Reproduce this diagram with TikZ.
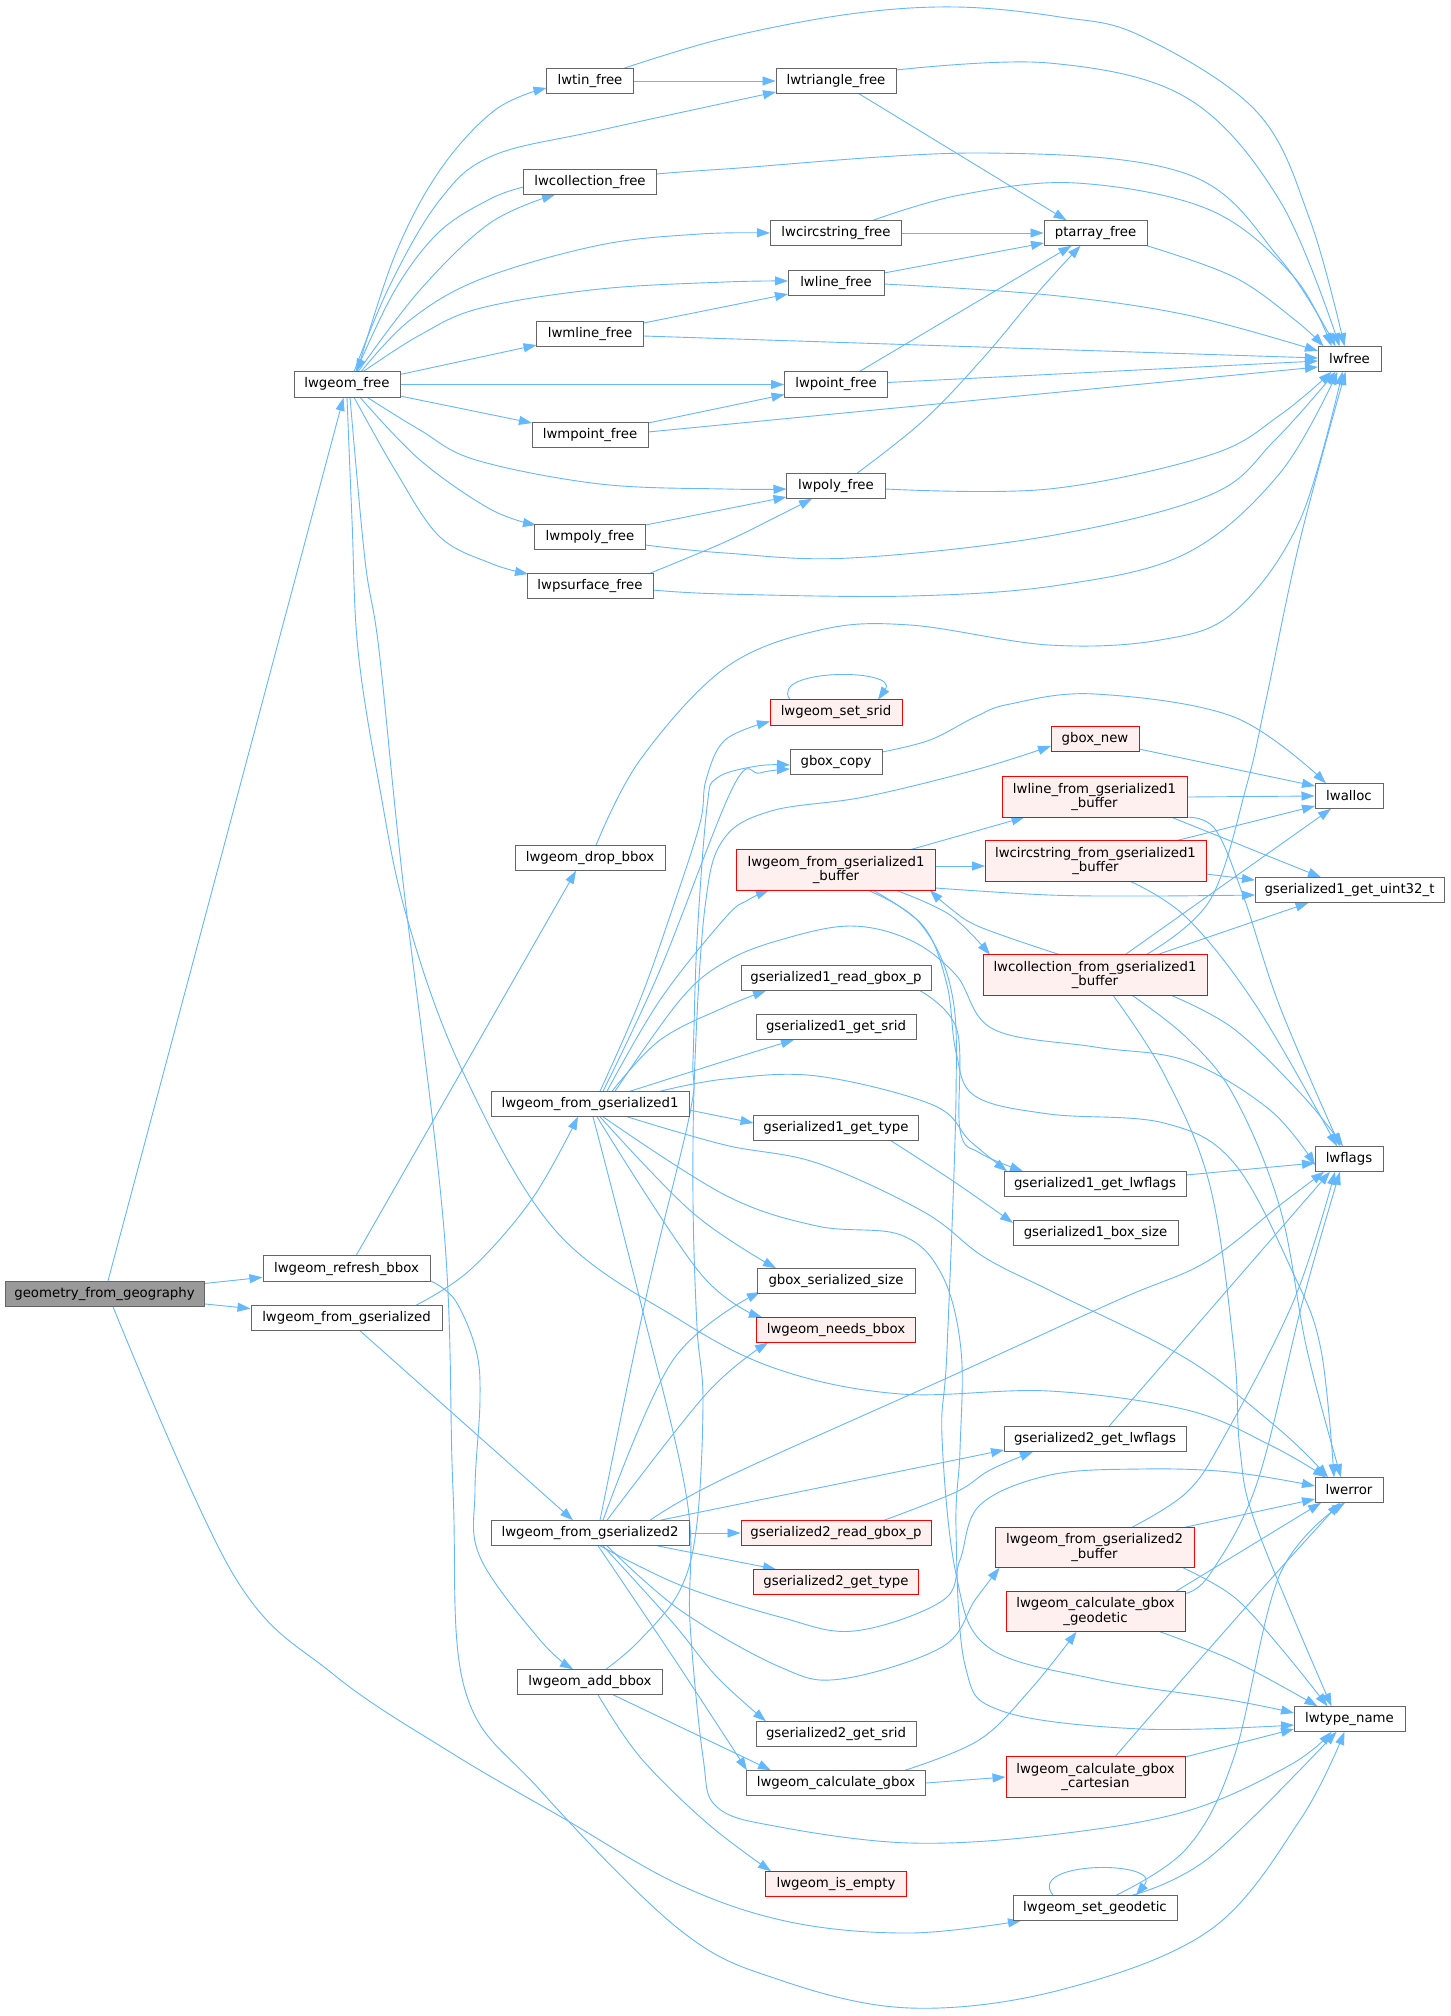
\documentclass[tikz,border=0pt]{standalone}
\usepackage{fontspec}
\setmainfont{DejaVu Sans}
\usetikzlibrary{arrows.meta}
\definecolor{edgec}{HTML}{63B8FF}
\definecolor{bord}{HTML}{666666}
\definecolor{redfill}{HTML}{FFF0F0}
\definecolor{rootfill}{HTML}{999999}
\pgfdeclarelayer{bg}
\pgfsetlayers{bg,main}
\begin{document}
\begin{tikzpicture}[x=1pt,y=-1pt,
 fn/.style={draw=bord, fill=white, line width=1pt, inner xsep=3pt, inner ysep=0pt, minimum height=25.5pt, font=\fontsize{13.3}{14.5}\selectfont, align=center, text=black},
 rn/.style={fn, draw=red, fill=redfill},
 two/.style={minimum height=40.5pt},
 e/.style={draw=edgec, line width=0.9pt, -{Triangle[length=13pt,width=9pt]}},
]
\useasboundingbox (0,0) rectangle (1451,2016);

\node[fn,fill=rootfill,minimum width=199pt] (G) at (104.5,1294) {geometry\_from\_geography};
\node[fn,minimum width=106pt] (LF) at (347,384.5) {lwgeom\_free};
\node[fn,minimum width=167pt] (refresh) at (346.5,1268.5) {lwgeom\_refresh\_bbox};
\node[fn,minimum width=191pt] (fromgs) at (346.5,1318) {lwgeom\_from\_gserialized};
\node[fn,minimum width=87pt] (tin) at (590,81) {lwtin\_free};
\node[fn,minimum width=133pt] (lwcoll) at (590,182) {lwcollection\_free};
\node[fn,minimum width=107pt] (lwmline) at (590,334) {lwmline\_free};
\node[fn,minimum width=116pt] (lwmpoint) at (590,435) {lwmpoint\_free};
\node[fn,minimum width=111pt] (lwmpoly) at (590,537) {lwmpoly\_free};
\node[fn,minimum width=126pt] (lwpsurf) at (590,586) {lwpsurface\_free};
\node[fn,minimum width=150pt] (dropbbox) at (590,858) {lwgeom\_drop\_bbox};
\node[fn,minimum width=198pt] (F1) at (590,1104) {lwgeom\_from\_gserialized1};
\node[fn,minimum width=198pt] (F2) at (590,1533) {lwgeom\_from\_gserialized2};
\node[fn,minimum width=145pt] (addbbox) at (590,1682) {lwgeom\_add\_bbox};
\node[fn,minimum width=120pt] (tri) at (836,81) {lwtriangle\_free};
\node[fn,minimum width=131pt] (lwcirc) at (836,233) {lwcircstring\_free};
\node[fn,minimum width=96pt] (lwline) at (836,283) {lwline\_free};
\node[fn,minimum width=103pt] (lwpoint) at (836,384.5) {lwpoint\_free};
\node[fn,minimum width=99pt] (lwpoly) at (836,486) {lwpoly\_free};
\node[rn,minimum width=132pt] (setsrid) at (836,712.5) {lwgeom\_set\_srid};
\node[fn,minimum width=92pt] (gboxcopy) at (836,762) {gbox\_copy};
\node[rn,two,minimum width=199pt] (B1) at (836,870) {lwgeom\_from\_gserialized1\\\_buffer};
\node[fn,minimum width=190pt] (rgb1) at (836,978) {gserialized1\_read\_gbox\_p};
\node[fn,minimum width=160pt] (gs1srid) at (836,1027) {gserialized1\_get\_srid};
\node[fn,minimum width=165pt] (gs1type) at (836,1128) {gserialized1\_get\_type};
\node[fn,minimum width=158pt] (gbss) at (836,1281) {gbox\_serialized\_size};
\node[rn,minimum width=159pt] (needs) at (836,1330) {lwgeom\_needs\_bbox};
\node[rn,minimum width=190pt] (gs2rgb) at (836,1533) {gserialized2\_read\_gbox\_p};
\node[rn,minimum width=165pt] (gs2type) at (836,1582) {gserialized2\_get\_type};
\node[fn,minimum width=160pt] (gs2srid) at (836,1734) {gserialized2\_get\_srid};
\node[fn,minimum width=179pt] (CG) at (836,1783) {lwgeom\_calculate\_gbox};
\node[rn,minimum width=141pt] (isempty) at (836,1884) {lwgeom\_is\_empty};
\node[fn,minimum width=103pt] (ptarray) at (1095.5,233) {ptarray\_free};
\node[rn,minimum width=88pt] (gboxnew) at (1095,739) {gbox\_new};
\node[rn,two,minimum width=185pt] (L1) at (1094.5,797) {lwline\_from\_gserialized1\\\_buffer};
\node[rn,two,minimum width=221pt] (C1) at (1095.5,861) {lwcircstring\_from\_gserialized1\\\_buffer};
\node[rn,two,minimum width=224pt] (CB) at (1095,975) {lwcollection\_from\_gserialized1\\\_buffer};
\node[fn,minimum width=182pt] (gs1lwflags) at (1095,1184) {gserialized1\_get\_lwflags};
\node[fn,minimum width=165pt] (gs1box) at (1095.5,1233) {gserialized1\_box\_size};
\node[fn,minimum width=182pt] (gs2lwflags) at (1095,1439) {gserialized2\_get\_lwflags};
\node[rn,two,minimum width=199pt] (B2) at (1094.5,1547.5) {lwgeom\_from\_gserialized2\\\_buffer};
\node[rn,two,minimum width=179pt] (GD) at (1095.5,1611.5) {lwgeom\_calculate\_gbox\\\_geodetic};
\node[rn,two,minimum width=179pt] (CA) at (1095.5,1777) {lwgeom\_calculate\_gbox\\\_cartesian};
\node[fn,minimum width=164pt] (SG) at (1095,1908) {lwgeom\_set\_geodetic};
\node[fn,minimum width=63pt] (lwfree) at (1349.5,359) {lwfree};
\node[fn,minimum width=68pt] (lwalloc) at (1349,796) {lwalloc};
\node[fn,minimum width=189pt] (uint32) at (1349.5,890) {gserialized1\_get\_uint32\_t};
\node[fn,minimum width=68pt] (lwflags) at (1349,1159) {lwflags};
\node[fn,minimum width=68pt] (lwerror) at (1349,1490) {lwerror};
\node[fn,minimum width=111pt] (lwtype) at (1349.5,1719) {lwtype\_name};

\begin{pgfonlayer}{bg}
\fill[white] (0,0) rectangle (1451,2016);
% geometry_from_geography
\draw[e] (G) -- (LF);
\draw[e] (G) -- (refresh);
\draw[e] (G) -- (fromgs);
\draw[e] plot[smooth,tension=0.6] coordinates {([shift={(8.5,12.75)}]G.center) (233,1574) (333,1674) (450,1752) (563,1818) (680,1885) (790,1922) (910,1933) ([shift={(-74,12.75)}]SG.center)};
% lwgeom_free
\draw[e] plot[smooth,tension=0.6] coordinates {([shift={(10,-12.75)}]LF.center) (395,255) (440,170) (495,110) ([shift={(-43.5,7)}]tin.center)};
\draw[e] plot[smooth,tension=0.6] coordinates {([shift={(7,-12.75)}]LF.center) (390,285) (439,201) (492,156) (601,130) ([shift={(-60,11)}]tri.center)};
\draw[e] plot[smooth,tension=0.6] coordinates {([shift={(11,-12.75)}]LF.center) (420,290) (490,223) ([shift={(-35,12.75)}]lwcoll.center)};
\draw[e] plot[smooth,tension=0.6] coordinates {([shift={(-66.5,5)}]lwcoll.center) (490,199) (439,232) (395,290) ([shift={(9,-12.75)}]LF.center)};
\draw[e] plot[smooth,tension=0.6] coordinates {([shift={(14,-12.75)}]LF.center) (410,320) (481,279) (600,245) (700,234) (lwcirc.west)};
\draw[e] plot[smooth,tension=0.6] coordinates {([shift={(16,-12.75)}]LF.center) (420,335) (481,308) (600,289) (725,282) ([shift={(-48,-2)}]lwline.center)};
\draw[e] ([shift={(53,-10)}]LF.center) -- ([shift={(-53.5,11)}]lwmline.center);
\draw[e] (LF.east) -- (lwpoint.west);
\draw[e] ([shift={(53,11.5)}]LF.center) -- ([shift={(-58,-12)}]lwmpoint.center);
\draw[e] plot[smooth,tension=0.6] coordinates {([shift={(20,12.75)}]LF.center) (420,430) (476,460) (600,484) (725,489) ([shift={(-49.5,3)}]lwpoly.center)};
\draw[e] plot[smooth,tension=0.6] coordinates {([shift={(13,12.75)}]LF.center) (420,460) (490,509) ([shift={(-54,-12)}]lwmpoly.center)};
\draw[e] plot[smooth,tension=0.6] coordinates {([shift={(7,12.75)}]LF.center) (395,470) (439,536) (490,563) ([shift={(-62,-12)}]lwpsurf.center)};
\draw[e] plot[smooth,tension=0.6] coordinates {([shift={(0,12.75)}]LF.center) (352,520) (358,650) (379,784) (407,918) (462,1070) (555,1230) (680,1320) (780,1370) (901,1394) (1049,1391) (1187,1410) (1270,1445) ([shift={(-23,-12.75)}]lwerror.center)};
\draw[e] plot[smooth,tension=0.6] coordinates {([shift={(3,12.75)}]LF.center) (365,560) (379,650) (402,873) (444,1230) (453,1490) (465,1690) (540,1790) (680,1930) (780,1980) (910,2008) (1060,1990) (1210,1930) (1300,1820) ([shift={(-5,12.75)}]lwtype.center)};
% free family
\draw[e] (tin.east) -- (tri.west);
\draw[e] plot[smooth,tension=0.6] coordinates {([shift={(34,-12.75)}]tin.center) (725,38) (850,14) (956,7) (1060,17) (1141,36) (1257,112) (1310,220) ([shift={(-5,-12.75)}]lwfree.center)};
\draw[e] plot[smooth,tension=0.6] coordinates {([shift={(60,-11)}]tri.center) (1049,63) (1187,98) (1280,201) ([shift={(-10,-12.75)}]lwfree.center)};
\draw[e] ([shift={(23,12.75)}]tri.center) -- ([shift={(-29,-12.75)}]ptarray.center);
\draw[e] plot[smooth,tension=0.6] coordinates {([shift={(66.5,-8)}]lwcoll.center) (725,169) (984,153) (1187,174) (1280,259) ([shift={(-14,-12.75)}]lwfree.center)};
\draw[e] (lwcirc.east) -- (ptarray.west);
\draw[e] plot[smooth,tension=0.6] coordinates {([shift={(37,-12.75)}]lwcirc.center) (960,195) (1076,183) (1210,210) (1294,277) ([shift={(-18,-12.75)}]lwfree.center)};
\draw[e] ([shift={(48,-10)}]lwline.center) -- ([shift={(-51.5,10)}]ptarray.center);
\draw[e] plot[smooth,tension=0.6] coordinates {([shift={(48,1)}]lwline.center) (1049,295) (1187,315) ([shift={(-31.5,-8)}]lwfree.center)};
\draw[e] ([shift={(53.5,-11)}]lwmline.center) -- ([shift={(-48,11)}]lwline.center);
\draw[e] ([shift={(53.5,2)}]lwmline.center) -- ([shift={(-31.5,-1)}]lwfree.center);
\draw[e] ([shift={(23,-12.75)}]lwpoint.center) -- ([shift={(-24,12.75)}]ptarray.center);
\draw[e] ([shift={(51.5,-2)}]lwpoint.center) -- ([shift={(-31.5,2)}]lwfree.center);
\draw[e] ([shift={(58,-12)}]lwmpoint.center) -- ([shift={(-51.5,10)}]lwpoint.center);
\draw[e] ([shift={(58,-3)}]lwmpoint.center) -- ([shift={(-31.5,8)}]lwfree.center);
\draw[e] plot[smooth,tension=0.6] coordinates {([shift={(21,-12.75)}]lwpoly.center) (924,420) (984,357) (1040,290) ([shift={(-15,12.75)}]ptarray.center)};
\draw[e] plot[smooth,tension=0.6] coordinates {([shift={(49.5,3)}]lwpoly.center) (1049,489) (1210,455) (1280,415) ([shift={(-18,12.75)}]lwfree.center)};
\draw[e] ([shift={(55.5,-12)}]lwmpoly.center) -- ([shift={(-49.5,11)}]lwpoly.center);
\draw[e] plot[smooth,tension=0.6] coordinates {([shift={(55.5,8)}]lwmpoly.center) (725,553) (850,558) (1049,536) (1210,495) (1275,440) ([shift={(-14,12.75)}]lwfree.center)};
\draw[e] plot[smooth,tension=0.6] coordinates {([shift={(60,-12.75)}]lwpsurf.center) (725,542) (780,515) ([shift={(-24,12.75)}]lwpoly.center)};
\draw[e] plot[smooth,tension=0.6] coordinates {([shift={(63,4)}]lwpsurf.center) (725,594) (910,596) (1060,585) (1187,553) (1280,473) ([shift={(-12,12.75)}]lwfree.center)};
\draw[e] plot[smooth,tension=0.6] coordinates {([shift={(51.5,12.75)}]ptarray.center) (1234,277) (1295,320) ([shift={(-26,-12.75)}]lwfree.center)};
\draw[e] plot[smooth,tension=0.6] coordinates {([shift={(6,-12.75)}]dropbbox.center) (640,760) (725,668) (820,630) (910,625) (1049,645) (1160,640) (1234,612) (1300,520) ([shift={(-7,12.75)}]lwfree.center)};
\draw[e] plot[smooth,tension=0.6] coordinates {([shift={(51,-20.25)}]CB.center) (1210,900) (1247,784) (1266,700) (1300,540) ([shift={(-4,12.75)}]lwfree.center)};
% refresh / from_gserialized
\draw[e] ([shift={(9.5,-12.75)}]refresh.center) -- ([shift={(-14,12.75)}]dropbbox.center);
\draw[e] plot[smooth,tension=0.6] coordinates {([shift={(83.5,12)}]refresh.center) (455,1300) (476,1350) (480,1400) (475,1490) (480,1557) (540,1640) ([shift={(-17,-12.75)}]addbbox.center)};
\draw[e] plot[smooth,tension=0.6] coordinates {([shift={(69.5,-12.75)}]fromgs.center) (470,1270) (532,1199) ([shift={(-12,12.75)}]F1.center)};
\draw[e] ([shift={(13.5,12.75)}]fromgs.center) -- ([shift={(-17,-12.75)}]F2.center);
% lwgeom_from_gserialized1
\draw[e] plot[smooth,tension=0.6] coordinates {([shift={(10,-12.75)}]F1.center) (640,1000) (673,907) (700,823) (706,780) (725,740) ([shift={(-66,9)}]setsrid.center)};
\draw[e] plot[smooth,tension=0.6] coordinates {([shift={(13,-12.75)}]F1.center) (660,970) (733,787) (760,773) ([shift={(-46,7)}]gboxcopy.center)};
\draw[e] plot[smooth,tension=0.6] coordinates {([shift={(17,-12.75)}]F1.center) (660,1000) (725,918) (748,900) ([shift={(-67,20.25)}]B1.center)};
\draw[e] plot[smooth,tension=0.6] coordinates {([shift={(22,-12.75)}]F1.center) (660,1040) (725,1007) ([shift={(-70,12.75)}]rgb1.center)};
\draw[e] plot[smooth,tension=0.6] coordinates {([shift={(40,-12.75)}]F1.center) (725,1061) ([shift={(-42,12.75)}]gs1srid.center)};
\draw[e] ([shift={(99,6)}]F1.center) -- ([shift={(-82.5,-5)}]gs1type.center);
\draw[e] plot[smooth,tension=0.6] coordinates {([shift={(70,-12.75)}]F1.center) (725,1079) (817,1076) (933,1105) (970,1141) ([shift={(-88,-12.75)}]gs1lwflags.center)};
\draw[e] plot[smooth,tension=0.6] coordinates {([shift={(25,-12.75)}]F1.center) (680,1000) (725,962) (780,940) (850,926) (910,940) (956,975) (993,1029) (1095,1047) (1187,1061) (1270,1110) ([shift={(-34,6)}]lwflags.center)};
\draw[e] plot[smooth,tension=0.6] coordinates {([shift={(10,12.75)}]F1.center) (693,1213) ([shift={(-60,-12.75)}]gbss.center)};
\draw[e] plot[smooth,tension=0.6] coordinates {([shift={(7,12.75)}]F1.center) (700,1273) ([shift={(-74,-12.75)}]needs.center)};
\draw[e] plot[smooth,tension=0.6] coordinates {([shift={(37,12.75)}]F1.center) (725,1145) (817,1163) (924,1212) (984,1257) (1055,1293) (1187,1359) (1280,1430) ([shift={(-21,-12.75)}]lwerror.center)};
\draw[e] plot[smooth,tension=0.6] coordinates {([shift={(13,12.75)}]F1.center) (725,1195) (817,1226) (901,1235) (942,1275) (961,1350) (960,1450) (956,1528) (965,1665) (1002,1711) (1141,1729) ([shift={(-55.5,6)}]lwtype.center)};
\draw[e] plot[smooth,tension=0.6] coordinates {([shift={(3,12.75)}]F1.center) (640,1300) (687,1500) (690,1623) (703,1757) (717,1807) (780,1827) (910,1843) (1050,1835) (1187,1811) (1290,1765) ([shift={(-18,12.75)}]lwtype.center)};
% lwgeom_from_gserialized2
\draw[e] (F2.east) -- (gs2rgb.west);
\draw[e] ([shift={(67,12.75)}]F2.center) -- ([shift={(-60,-12.75)}]gs2type.center);
\draw[e] ([shift={(70,-12.75)}]F2.center) -- ([shift={(-91,11)}]gs2lwflags.center);
\draw[e] plot[smooth,tension=0.6] coordinates {([shift={(60,-12.75)}]F2.center) (725,1478) (947,1378) (1118,1300) (1206,1262) (1280,1205) ([shift={(-25,12.75)}]lwflags.center)};
\draw[e] plot[smooth,tension=0.6] coordinates {([shift={(10,-12.75)}]F2.center) (647,1293) (690,1113) (693,1060) (697,940) (707,807) (717,778) (757,766) ([shift={(-46,3)}]gboxcopy.center)};
\draw[e] plot[smooth,tension=0.6] coordinates {([shift={(13,-12.75)}]F2.center) (673,1360) ([shift={(-76,11)}]gbss.center)};
\draw[e] plot[smooth,tension=0.6] coordinates {([shift={(17,-12.75)}]F2.center) (707,1393) ([shift={(-68,12.75)}]needs.center)};
\draw[e] plot[smooth,tension=0.6] coordinates {([shift={(17,12.75)}]F2.center) (680,1610) (780,1667) (841,1679) (942,1647) (975,1600) ([shift={(-95,20.25)}]B2.center)};
\draw[e] plot[smooth,tension=0.6] coordinates {([shift={(10,12.75)}]F2.center) (680,1585) (780,1617) (854,1631) (942,1601) (960,1560) (980,1505) (1050,1475) (1141,1469) (1230,1472) ([shift={(-34,-4)}]lwerror.center)};
\draw[e] plot[smooth,tension=0.6] coordinates {([shift={(13,12.75)}]F2.center) (673,1623) (717,1677) ([shift={(-70,-12.75)}]gs2srid.center)};
\draw[e] plot[smooth,tension=0.6] coordinates {([shift={(8,12.75)}]F2.center) (673,1657) ([shift={(-89,-12.75)}]CG.center)};
% lwgeom_add_bbox
\draw[e] plot[smooth,tension=0.6] coordinates {([shift={(16,-12.75)}]addbbox.center) (640,1640) (680,1590) (697,1523) (703,1400) (697,1327) (693,1200) (695,1060) (705,907) (723,840) (771,811) (864,797) (975,770) ([shift={(-44,7)}]gboxnew.center)};
\draw[e] ([shift={(23,12.75)}]addbbox.center) -- ([shift={(-65,-12.75)}]CG.center);
\draw[e] plot[smooth,tension=0.6] coordinates {([shift={(8,12.75)}]addbbox.center) (640,1757) (707,1823) ([shift={(-65,-12.75)}]isempty.center)};
% lwgeom_from_gserialized1_buffer
\draw[e] ([shift={(74,-20.25)}]B1.center) -- ([shift={(-70,20.25)}]L1.center);
\draw[e] ([shift={(99.5,-4)}]B1.center) -- ([shift={(-110.5,5)}]C1.center);
\draw[e] plot[smooth,tension=0.6] coordinates {([shift={(99.5,18)}]B1.center) (1049,895) (1150,896) ([shift={(-94.5,5)}]uint32.center)};
\draw[e] plot[smooth,tension=0.6] coordinates {([shift={(60,20.25)}]B1.center) (950,915) ([shift={(-105,-20.25)}]CB.center)};
\draw[e] plot[smooth,tension=0.6] coordinates {([shift={(-35,-20.25)}]CB.center) (980,927) (950,908) ([shift={(94,20.25)}]B1.center)};
\draw[e] plot[smooth,tension=0.6] coordinates {([shift={(37,20.25)}]B1.center) (924,927) (947,985) (956,1052) (975,1096) (1049,1114) (1164,1123) (1234,1163) (1294,1275) (1321,1350) ([shift={(-15,-12.75)}]lwerror.center)};
\draw[e] plot[smooth,tension=0.6] coordinates {([shift={(32,20.25)}]B1.center) (919,922) (951,989) (956,1096) (947,1350) (942,1437) (956,1574) (988,1647) (1095,1679) (1230,1700) ([shift={(-55.5,-6)}]lwtype.center)};
% line / circstring / collection buffers
\draw[e] (L1.east) -- (lwalloc.west);
\draw[e] ([shift={(77,20.25)}]L1.center) -- ([shift={(-28.5,-12.75)}]uint32.center);
\draw[e] plot[smooth,tension=0.6] coordinates {([shift={(92.5,20.25)}]L1.center) (1215,829) (1243,895) (1280,1007) ([shift={(-9,-12.75)}]lwflags.center)};
\draw[e] ([shift={(80.5,-20.25)}]C1.center) -- ([shift={(-34,10)}]lwalloc.center);
\draw[e] ([shift={(110.5,13)}]C1.center) -- ([shift={(-94.5,-10)}]uint32.center);
\draw[e] plot[smooth,tension=0.6] coordinates {([shift={(34.5,20.25)}]C1.center) (1187,918) (1257,1007) ([shift={(-12,-12.75)}]lwflags.center)};
\draw[e] ([shift={(30,-20.25)}]CB.center) -- ([shift={(-18,12.75)}]lwalloc.center);
\draw[e] ([shift={(62,-20.25)}]CB.center) -- ([shift={(-41,12.75)}]uint32.center);
\draw[e] plot[smooth,tension=0.6] coordinates {([shift={(76,20.25)}]CB.center) (1234,1029) (1303,1096) ([shift={(-6,-12.75)}]lwflags.center)};
\draw[e] plot[smooth,tension=0.6] coordinates {([shift={(37,20.25)}]CB.center) (1187,1038) (1234,1096) (1280,1208) (1307,1350) ([shift={(-8,-12.75)}]lwerror.center)};
\draw[e] plot[smooth,tension=0.6] coordinates {([shift={(18,20.25)}]CB.center) (1164,1074) (1210,1186) (1234,1350) (1240,1450) (1257,1528) ([shift={(-18,-12.75)}]lwtype.center)};
% small ones
\draw[e] plot[smooth,tension=0.6] coordinates {([shift={(84,12.75)}]rgb1.center) (957,1030) (960,1130) (980,1153) ([shift={(-72,-12.75)}]gs1lwflags.center)};
\draw[e] plot[smooth,tension=0.6] coordinates {([shift={(55,12.75)}]gs1type.center) (956,1183) ([shift={(-82.5,-10)}]gs1box.center)};
\draw[e] ([shift={(91,-9)}]gs1lwflags.center) -- ([shift={(-34,4)}]lwflags.center);
\draw[e] ([shift={(14,-12.75)}]gs2lwflags.center) -- ([shift={(-19,12.75)}]lwflags.center);
\draw[e] plot[smooth,tension=0.6] coordinates {([shift={(48,-12.75)}]gs2rgb.center) (956,1492) (990,1470) ([shift={(-62,12.75)}]gs2lwflags.center)};
\draw[e] plot[smooth,tension=0.6] coordinates {([shift={(46,-10)}]gboxcopy.center) (930,740) (975,717) (1010,704) (1095,694) (1234,717) ([shift={(-23,-12.75)}]lwalloc.center)};
\draw[e] ([shift={(44,10)}]gboxnew.center) -- ([shift={(-34,-10)}]lwalloc.center);
\draw[e] ([shift={(-46,-12.75)}]setsrid.center) .. controls (768,668) and (900,668) .. ([shift={(42,-12.75)}]setsrid.center);
% gserialized2 buffer, gbox
\draw[e] ([shift={(90.5,-20.25)}]B2.center) -- ([shift={(-34,9)}]lwerror.center);
\draw[e] plot[smooth,tension=0.6] coordinates {([shift={(37.5,-20.25)}]B2.center) (1187,1492) (1224,1437) (1294,1300) ([shift={(-14,12.75)}]lwflags.center)};
\draw[e] plot[smooth,tension=0.6] coordinates {([shift={(88.5,20.25)}]B2.center) (1234,1597) (1280,1647) ([shift={(-22,-12.75)}]lwtype.center)};
\draw[e] ([shift={(80.5,-20.25)}]GD.center) -- ([shift={(-28,12.75)}]lwerror.center);
\draw[e] plot[smooth,tension=0.6] coordinates {([shift={(89.5,-18)}]GD.center) (1210,1574) (1257,1483) (1303,1300) ([shift={(-9,12.75)}]lwflags.center)};
\draw[e] plot[smooth,tension=0.6] coordinates {([shift={(64.5,20.25)}]GD.center) (1234,1661) ([shift={(-32,-12.75)}]lwtype.center)};
\draw[e] plot[smooth,tension=0.6] coordinates {([shift={(19.5,-20.25)}]CA.center) (1187,1674) (1270,1580) ([shift={(-9,12.75)}]lwerror.center)};
\draw[e] ([shift={(89.5,-20)}]CA.center) -- ([shift={(-55.5,10)}]lwtype.center);
\draw[e] plot[smooth,tension=0.6] coordinates {([shift={(69,-12.75)}]CG.center) (979,1740) (1030,1690) ([shift={(-19,20.25)}]GD.center)};
\draw[e] (CG.east) -- (CA.west);
\draw[e] ([shift={(-42,-12.75)}]SG.center) .. controls (1025,1860) and (1165,1860) .. ([shift={(41,-12.75)}]SG.center);
\draw[e] plot[smooth,tension=0.6] coordinates {([shift={(21,-12.75)}]SG.center) (1187,1848) (1234,1757) (1280,1574) ([shift={(-4,12.75)}]lwerror.center)};
\draw[e] plot[smooth,tension=0.6] coordinates {([shift={(37,-12.75)}]SG.center) (1210,1857) ([shift={(-13,12.75)}]lwtype.center)};
\end{pgfonlayer}
\end{tikzpicture}
\end{document}
